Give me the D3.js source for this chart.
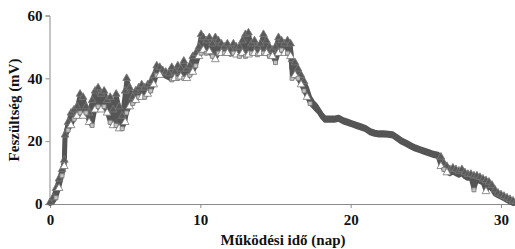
<!DOCTYPE html>
<html><head><meta charset="utf-8">
<script src="https://cdn.jsdelivr.net/npm/d3@7"></script>
<style>body{margin:0;background:#fff}svg{display:block}text{font-family:"Liberation Serif","Times New Roman",serif;font-weight:bold;fill:#111}</style>
</head><body><svg id="c" width="515" height="249"></svg>
<script>
const days = [0,0.2,0.4,0.6,0.8,0.95,1.0,1.2,1.4,1.6,1.8,2.0,2.2,2.4,2.6,2.8,3.0,3.2,3.4,3.6,3.8,4.0,4.2,4.4,4.6,4.8,5.0,5.1,5.3,5.5,5.7,5.9,6.1,6.3,6.5,6.7,6.9,7.1,7.3,7.5,7.7,7.9,8.1,8.3,8.5,8.7,8.9,9.1,9.3,9.5,9.7,9.9,10.05,10.2,10.4,10.6,10.8,11.0,11.2,11.4,11.6,11.8,12.0,12.2,12.4,12.6,12.8,13.0,13.2,13.4,13.6,13.8,14.0,14.2,14.4,14.6,14.8,15.0,15.2,15.4,15.6,15.8,16.0,16.1,16.3,16.5,16.7,16.9,17.1,17.3,17.5,17.7,17.9,18.1,18.3,18.6,18.9,19.2,19.5,19.8,20.1,20.4,20.7,21.0,21.3,21.6,21.9,22.2,22.5,22.8,23.1,23.4,23.7,24.0,24.3,24.6,24.9,25.2,25.5,25.8,26.0,26.2,26.4,26.6,26.8,27.0,27.2,27.4,27.6,27.8,28.0,28.2,28.4,28.6,28.8,29.0,29.2,29.4,29.6,29.8,30.0,30.2,30.4,30.6,30.8,31.0];
const upper = [0.5,2,5,8,11,14,22,26,29,30,31,35,34,31,29,33,36,37,35,36,33,34,30,35,31,28,36,40,37,34,36,37,38,37,38,39,41,44,43.5,42.5,42,41.5,43.5,42,44,43,45.5,43,44,47,48,50,54,53,52,53,51,53,52,51,50,51,49,51,50,50,52,54,54.5,51,52,50,51,54,52,50,49,50,53,52,51,52,51,46,45,43,41,39,37,34,32.5,31.5,30,28.5,27.5,27.5,27.5,27.8,27,26.5,26,25.5,25,24.5,23.5,23,22.8,22.8,22.7,22.5,21.5,20.5,19.8,19,18.3,17.8,17.3,16.8,16.3,16,15,13,12,11,11.5,11,10.5,11,10,9.5,9.5,9,9,8.5,8,7.5,7,6,4.5,3.5,3,2.5,2,1.5,1,0.8];
const lower = [0,0.5,2,5,9,12,21,23.5,25,27,28,29,28,29,26,25,30,31,30,31,29,26,25,25,24,24,26,29,31,32,33,34,34,34,35,36,38,41,41,41,40.5,40,39.5,40,40,40.5,40,40,41,42,44,47,48,49,48,48.5,47,46,48,48,48,48,47.5,48,47.5,47,48,47,47.5,48,48,47.5,48,48,48,47,47,45,48,49,48,48,47,40,41,40,38,36,34,32,31,30,29,27.5,26.5,26.5,26.5,26.8,26,25.5,25,24.5,24,23.5,22.5,22,21.8,21.8,21.7,21.5,20.5,19.5,18.8,18,17.3,16.8,16.3,15.8,15.3,15,12,11,10,9.5,10,9.5,9,9.5,8.5,8,8,4.5,7.5,7,6.5,4,5.5,4.5,3,2.5,2,1.5,1,0.5,0,0.2];
const xTicks = [0,10,20,30];
const yTicks = [0,20,40,60];
const xTitle = "Működési idő (nap)";
const yTitle = "Feszültség (mV)";

const svg = d3.select("#c");
const x = d3.scaleLinear().domain([0,30]).range([50,501]);
const y = d3.scaleLinear().domain([0,60]).range([204,15.5]);
const data = days.map((d,i)=>({t:d,u:upper[i],l:lower[i]}));

// axes
const gx = svg.append("g").attr("transform","translate(0,204)")
  .call(d3.axisBottom(x).tickValues(xTicks).tickSize(4).tickPadding(4).tickFormat(d3.format("d")));
gx.select(".domain").attr("d","M49.5,0.5H515");
const gy = svg.append("g").attr("transform","translate(49.5,0)")
  .call(d3.axisLeft(y).tickValues(yTicks).tickSize(4).tickPadding(3).tickFormat(d3.format("d")));
svg.selectAll(".domain, .tick line").attr("stroke","#8a8a8a");
svg.selectAll(".tick text").attr("font-size",15).attr("fill","#111")
  .style("font-family",'"Liberation Serif",serif').style("font-weight","bold");
gx.selectAll(".tick text").attr("dy","0.85em");

// band
svg.append("path").datum(data)
  .attr("d", d3.area().x(d=>x(d.t)).y0(d=>y(d.l)).y1(d=>y(d.u)))
  .attr("fill","#5c5c5c").attr("stroke","#555").attr("stroke-width",4).attr("stroke-linejoin","round");
svg.append("path").datum(data)
  .attr("d", d3.line().x(d=>x(d.t)).y(d=>y((d.u+d.l)/2)))
  .attr("fill","none").attr("stroke","#555").attr("stroke-width",5).attr("stroke-linejoin","round");

const tri = d3.symbol().type(d3.symbolTriangle).size(26);
const sq = d3.symbol().type(d3.symbolSquare).size(16);
// upper markers: dark triangles (only where the band spreads)
svg.append("g").selectAll("path").data(data.filter(d=>d.t<17 || d.t>25.9)).join("path")
  .attr("d",tri).attr("transform",d=>`translate(${x(d.t)},${y(d.u)})`)
  .attr("fill","#595959").attr("stroke","#7a7a7a").attr("stroke-width",0.8);
// lower markers: light squares and triangles
svg.append("g").selectAll("path").data(data.filter(d=>d.u-d.l>1.5)).join("path")
  .attr("d",(d,i)=> i%2? tri(): sq())
  .attr("transform",d=>`translate(${x(d.t)},${y(d.l)})`)
  .attr("fill",(d,i)=> i%2? "#fff":"#c4c4c4").attr("stroke","#777").attr("stroke-width",0.8);

// titles
svg.append("text").attr("x",283).attr("y",245).attr("text-anchor","middle").attr("font-size",15).text(xTitle);
svg.append("text").attr("transform","translate(19,110) rotate(-90)").attr("text-anchor","middle").attr("font-size",15).text(yTitle);
</script></body></html>
